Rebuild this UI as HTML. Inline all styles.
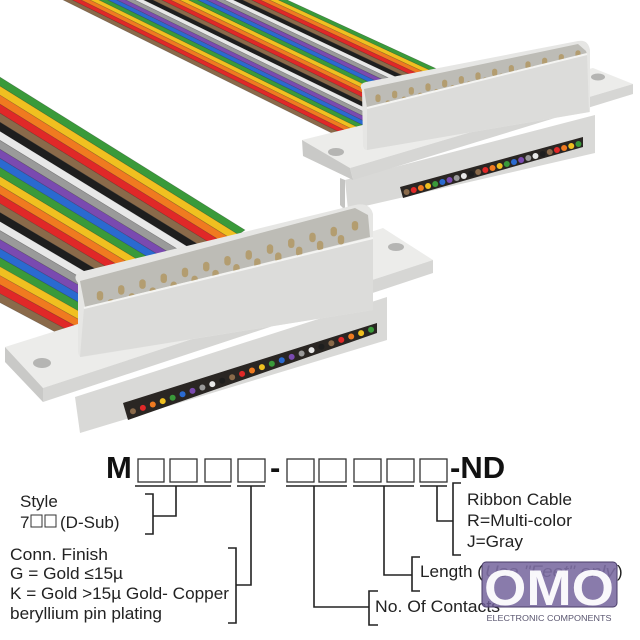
<!DOCTYPE html>
<html><head><meta charset="utf-8"><style>
html,body{margin:0;padding:0;background:#fff;width:640px;height:640px;overflow:hidden}
svg{display:block}
text{font-family:"Liberation Sans",Arial,sans-serif}
</style></head><body>
<svg id="s" width="640" height="640" viewBox="0 0 640 640" xmlns="http://www.w3.org/2000/svg">
<g id="cables"></g>

<!-- TOP CONNECTOR -->
<g id="topc">
  <polygon points="345,180 595,115 595,153 348,210" fill="#d9d9d7"/>
  <polygon points="345,180 345,210 340,205 340,178" fill="#c4c4c2"/>
  <polygon points="400,187 583,137 583,147 403,198" fill="#2a2623"/>
  <g id="dots1"></g>
  <polygon points="302,140 593,68 633,84 350,168" fill="#ececea"/>
  <polygon points="350,168 633,84 633,94 353,180" fill="#d6d6d4"/>
  <polygon points="302,140 350,168 353,180 303,156" fill="#c9c9c7"/>
  <ellipse cx="336" cy="152" rx="8" ry="4" fill="#b5b5b3"/>
  <ellipse cx="598" cy="77" rx="7" ry="3.5" fill="#b5b5b3"/>
  <path d="M362,90 Q358,84 366,82 L578,41 Q588,39 590,50 L590,112 L367,150 Q363,150 363,144 Z" fill="#e6e6e4"/>
  <polygon points="364,89 578,44 586,51 587,54 367,108" fill="#bdbcb6"/>
  <g id="pins1"></g>
  <polygon points="367,108 587,54 589,112 367,150" fill="#dcdcda"/>
  <line x1="367" y1="108" x2="587" y2="54" stroke="#f4f4f2" stroke-width="2"/>
</g>

<!-- BOTTOM CONNECTOR -->
<g id="botc">
  <polygon points="75,397 387,297 387,340 80,433" fill="#d9d9d7"/>
  <polygon points="123,403 377,323 377,333 128,420" fill="#2a2623"/>
  <g id="dots2"></g>
  <polygon points="5,347 383,228 433,260 43,388" fill="#ececea"/>
  <polygon points="43,388 433,260 433,273 43,402" fill="#d6d6d4"/>
  <polygon points="5,347 43,388 43,402 5,362" fill="#c9c9c7"/>
  <ellipse cx="42" cy="363" rx="9" ry="5" fill="#b5b5b3"/>
  <ellipse cx="396" cy="247" rx="8" ry="4" fill="#b5b5b3"/>
  <path d="M78,283 Q72,276 80,272 L355,205 Q370,202 373,214 L373,310 L82,357 Q78,357 78,350 Z" fill="#e6e6e4"/>
  <polygon points="80,281 355,208 368,215 370,237 85,307" fill="#bdbcb6"/>
  <g id="pins2"></g>
  <polygon points="84,308 373,238 373,310 80,357" fill="#dcdcda"/>
  <line x1="84" y1="308" x2="373" y2="238" stroke="#f4f4f2" stroke-width="2"/>
</g>

<!-- PART NUMBER -->
<g>
  <text x="106" y="478" font-size="31" font-weight="bold" style="fill:#111">M</text>
  <g fill="none" stroke="#333" stroke-width="1.3">
    <rect x="138" y="459" width="26" height="23"/>
    <rect x="170" y="459" width="27" height="23"/>
    <rect x="205" y="459" width="26" height="23"/>
    <rect x="238" y="459" width="27" height="23"/>
    <rect x="287" y="459" width="27" height="23"/>
    <rect x="319" y="459" width="27" height="23"/>
    <rect x="354" y="459" width="27" height="23"/>
    <rect x="387" y="459" width="27" height="23"/>
    <rect x="420" y="459" width="27" height="23"/>
  </g>
  <text x="270" y="478" font-size="31" font-weight="bold" style="fill:#111">-</text>
  <text x="450" y="478" font-size="31" font-weight="bold" style="fill:#111">-ND</text>
</g>
<g stroke="#222" stroke-width="1.6" fill="none">
  <line x1="135" y1="486" x2="231" y2="486"/>
  <line x1="237" y1="486" x2="265" y2="486"/>
  <line x1="286" y1="486" x2="347" y2="486"/>
  <line x1="353" y1="486" x2="414" y2="486"/>
  <line x1="420" y1="486" x2="447" y2="486"/>
  <polyline points="176,486 176,516 153,516"/>
  <polyline points="145,494 153,494 153,534 145,534"/>
  <polyline points="251,486 251,585 236,585"/>
  <polyline points="228,548 236,548 236,623 228,623"/>
  <polyline points="314,486 314,607 369,607"/>
  <polyline points="378,591 369,591 369,625 378,625"/>
  <polyline points="384,486 384,575 412,575"/>
  <polyline points="420,557 412,557 412,591 420,591"/>
  <polyline points="437,486 437,521 453,521"/>
  <polyline points="461,483 453,483 453,555 461,555"/>
</g>
<g font-size="17" style="fill:#222">
  <text x="20" y="507">Style</text>
  <text x="20" y="528">7</text>
  <rect x="31" y="515" width="11" height="12" fill="none" stroke="#333" stroke-width="1"/>
  <rect x="45" y="515" width="11" height="12" fill="none" stroke="#333" stroke-width="1"/>
  <text x="60" y="528">(D-Sub)</text>
  <text x="10" y="560" textLength="98" lengthAdjust="spacingAndGlyphs">Conn. Finish</text>
  <text x="10" y="579" textLength="113" lengthAdjust="spacingAndGlyphs">G = Gold ≤15µ</text>
  <text x="10" y="599" textLength="219" lengthAdjust="spacingAndGlyphs">K = Gold &gt;15µ Gold- Copper</text>
  <text x="10" y="619" textLength="152" lengthAdjust="spacingAndGlyphs">beryllium pin plating</text>
  <text x="375" y="612" textLength="125" lengthAdjust="spacingAndGlyphs">No. Of Contacts</text>
  <text x="420" y="577" textLength="63" lengthAdjust="spacingAndGlyphs">Length (</text>
  <text x="485" y="577" font-style="italic" style="fill:#8a8a8a" textLength="130" lengthAdjust="spacingAndGlyphs">Use "Feet" only</text>
  <text x="617" y="577">)</text>
  <text x="467" y="505" textLength="105" lengthAdjust="spacingAndGlyphs">Ribbon Cable</text>
  <text x="467" y="526" textLength="105" lengthAdjust="spacingAndGlyphs">R=Multi-color</text>
  <text x="467" y="547" textLength="56" lengthAdjust="spacingAndGlyphs">J=Gray</text>
</g>
<!-- LOGO -->
<g>
  <rect x="482" y="562" width="135" height="45" rx="4" fill="#6f5e98" fill-opacity="0.82" stroke="#4a3d6a" stroke-width="1"/>
  <text x="549" y="605" text-anchor="middle" font-size="50" font-weight="bold" style="fill:#ffffff;fill-opacity:0.95" textLength="130" lengthAdjust="spacingAndGlyphs">OMO</text>
  <text x="549" y="621" text-anchor="middle" font-size="8" style="fill:#5a5670" textLength="125" lengthAdjust="spacingAndGlyphs">ELECTRONIC COMPONENTS</text>
</g>
</svg>
<script>
var NS="http://www.w3.org/2000/svg";
var cols=["#3a9a3a","#f0c020","#f07a20","#e02828","#8a6a4a","#1e1e1e","#e8e8e8","#9a9a9a","#7a4ab0","#2a6ad0",
"#3a9a3a","#f0c020","#f07a20","#e02828","#8a6a4a","#1e1e1e","#e8e8e8","#9a9a9a","#7a4ab0","#2a6ad0",
"#3a9a3a","#f0c020","#f07a20","#e02828","#8a6a4a"];
function L(a,b,t){return [a[0]+(b[0]-a[0])*t,a[1]+(b[1]-a[1])*t];}
function band(A0,A1,B0,B1){
  var g=document.getElementById("cables"),n=cols.length;
  for(var i=0;i<n;i++){
    var t0=i/n,t1=(i+1)/n,p=[L(A0,A1,t0),L(A0,A1,t1),L(B0,B1,t1),L(B0,B1,t0)];
    var e=document.createElementNS(NS,"polygon");
    e.setAttribute("points",p.map(function(q){return q[0]+","+q[1]}).join(" "));
    e.setAttribute("fill",cols[i]);e.setAttribute("stroke","rgba(0,0,0,0.25)");e.setAttribute("stroke-width","0.6");
    g.appendChild(e);
  }
}
band([270,-8],[47,-8],[450,75],[362,148]);
band([-5,74],[-5,300],[245,230],[80,345]);
function dots(id,a,b,n){
  var g=document.getElementById(id);
  for(var i=0;i<n;i++){var p=L(a,b,(i+0.5)/n);
    var c=document.createElementNS(NS,"circle");c.setAttribute("cx",p[0]);c.setAttribute("cy",p[1]);
    c.setAttribute("r","3");c.setAttribute("fill",cols[n-1-i]);g.appendChild(c);}
}
dots("dots1",[403,193],[582,143],25);
dots("dots2",[128,413],[376,328],25);
function pins(id,a,b,n,r){
  var g=document.getElementById(id);
  for(var i=0;i<n;i++){var p=L(a,b,n==1?0:i/(n-1));
    var c=document.createElementNS(NS,"rect");c.setAttribute("x",p[0]-r);c.setAttribute("y",p[1]-r*2.2);
    c.setAttribute("width",r*2);c.setAttribute("height",r*3);c.setAttribute("rx",r);c.setAttribute("fill","#b39d70");g.appendChild(c);}
}
pins("pins1",[378,100],[578,56],13,2.6);
pins("pins1",[388,106],[566,64],12,2.6);
pins("pins2",[100,298],[355,228],13,3.2);
pins("pins2",[111,306],[341,242],12,3.2);
</script>
</body></html>
